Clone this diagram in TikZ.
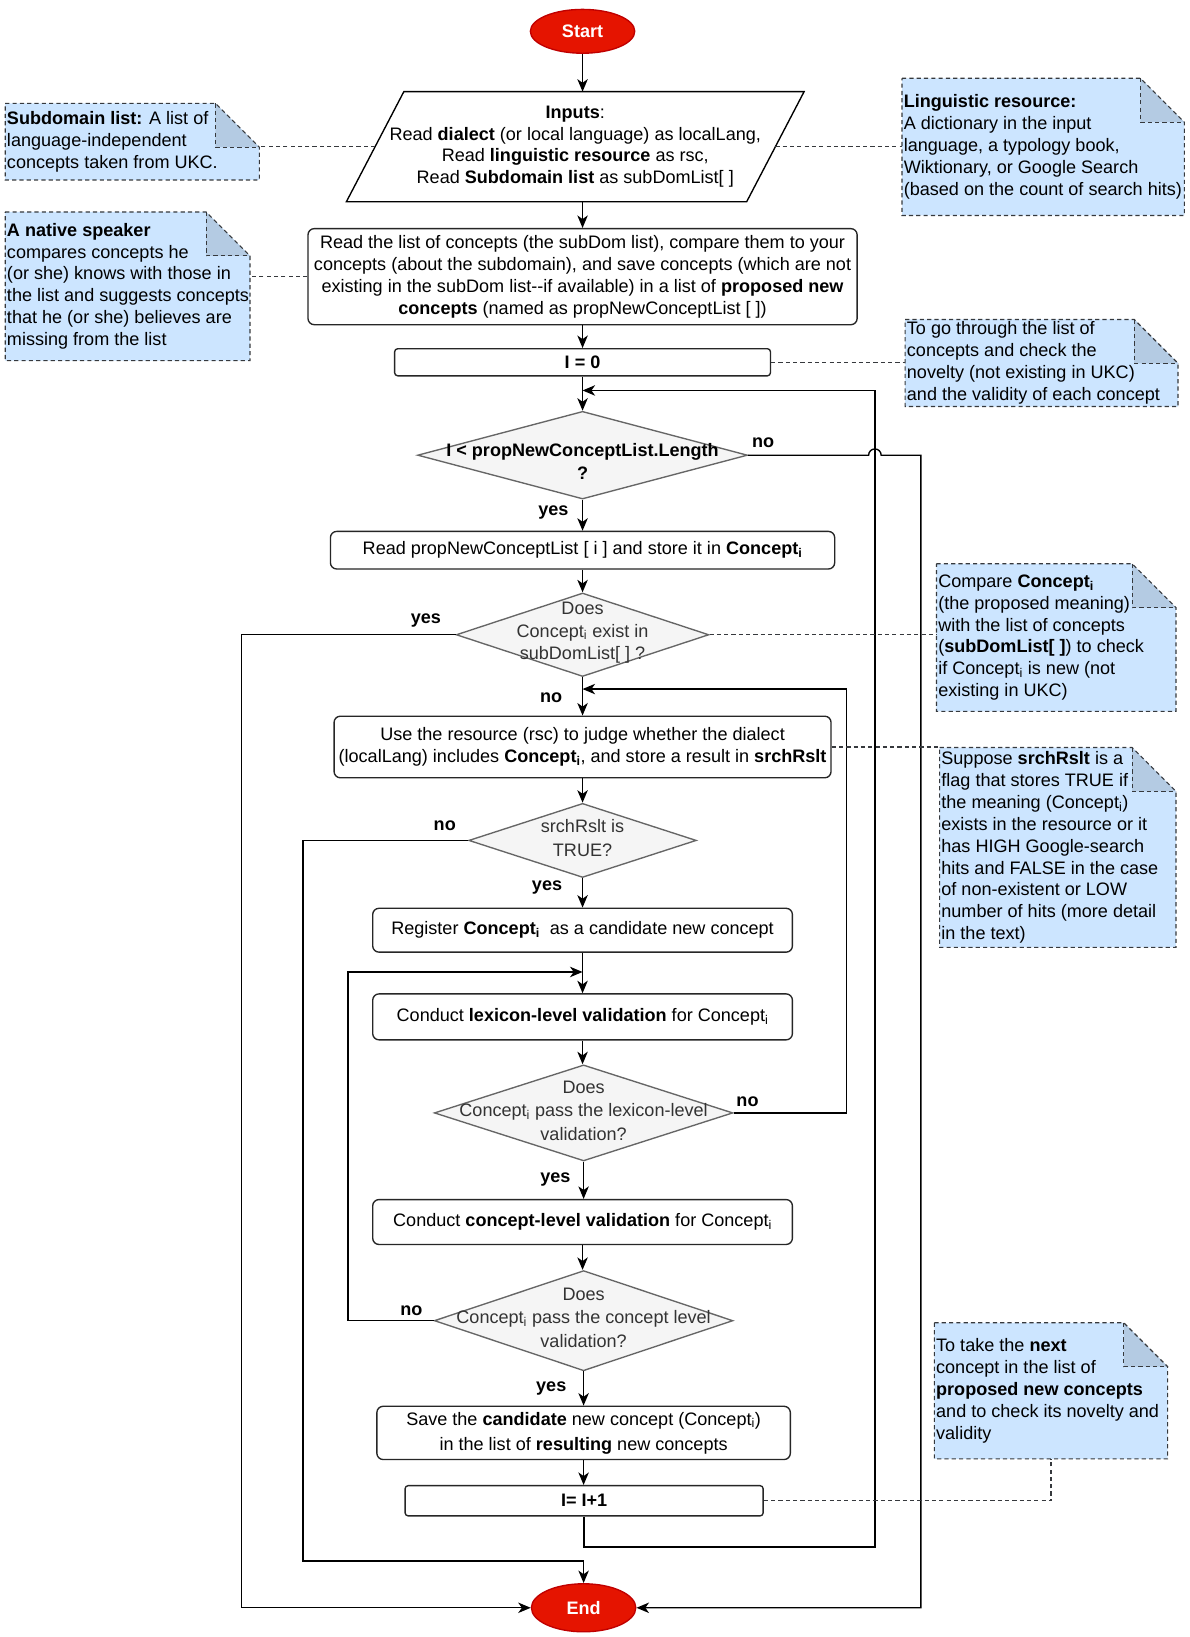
\documentclass[tikz,border=0pt]{standalone}
\usepackage{fontspec}
\setmainfont{Liberation Sans}
\usetikzlibrary{shapes.geometric,arrows.meta,calc}
\pgfdeclarelayer{bg}
\pgfdeclarelayer{paper}
\pgfsetlayers{paper,bg,main}
\definecolor{termred}{HTML}{E51400}
\definecolor{termline}{HTML}{C00000}
\definecolor{notefill}{HTML}{CCE5FF}
\definecolor{foldfill}{HTML}{B4CBE3}
\definecolor{noteline}{HTML}{36393D}
\definecolor{diafill}{HTML}{F5F5F5}
\definecolor{dialine}{HTML}{666666}
\newcommand\foldnote[1]{%
 \begin{pgfonlayer}{bg}
 \fill[notefill] (#1.north west) -- ([xshift=-42pt]#1.north east) -- ([yshift=-42pt]#1.north east) -- (#1.south east) -- (#1.south west) -- cycle;
 \fill[foldfill] ([xshift=-42pt]#1.north east) -- ([yshift=-42pt]#1.north east) -- ([xshift=-42pt,yshift=-42pt]#1.north east) -- cycle;
 \end{pgfonlayer}
 \draw[notedraw] (#1.north west) -- ([xshift=-42pt]#1.north east) -- ([yshift=-42pt]#1.north east) -- (#1.south east) -- (#1.south west) -- cycle;
 \draw[notedraw] ([xshift=-42pt]#1.north east) -- ([xshift=-42pt,yshift=-42pt]#1.north east) -- ([yshift=-42pt]#1.north east);
}
\begin{document}
\begin{tikzpicture}[x=1pt,y=-1pt,
  every node/.style={font=\fontsize{17.3}{21}\selectfont, inner sep=0pt},
  arr/.style={draw=black, line width=1.3pt, -{Stealth[length=12pt,width=10pt,inset=3.5pt]}},
  ln/.style={draw=black, line width=1.3pt},
  dashc/.style={draw=noteline, line width=1.1pt, dash pattern=on 4pt off 3pt},
  notedraw/.style={draw=noteline, line width=1.1pt, dash pattern=on 4pt off 3pt},
  proc/.style={draw=black!85, line width=1.3pt, rounded corners=6pt, fill=white, align=center},
  dia/.style={diamond, draw=dialine, line width=1.3pt, fill=diafill, inner sep=0pt},
  diat/.style={align=center, text=black!80},
  term/.style={ellipse, draw=termline, line width=1.3pt, fill=termred, text=white, font=\fontsize{17.3}{21}\selectfont\bfseries},
  lab/.style={font=\fontsize{17.3}{21}\selectfont\bfseries},
  notebox/.style={draw=none, anchor=north west, inner sep=0pt},
  notetext/.style={align=left, anchor=west, inner xsep=1.5pt}
]
\begin{pgfonlayer}{paper}
\fill[white] (0,0) rectangle (1139,1568);
\end{pgfonlayer}
\path[use as bounding box] (0,0) rectangle (1139,1568);

% terminals
\node[term, minimum width=100, minimum height=42] (start) at (558,30) {Start};
\node[term, minimum width=100, minimum height=46] (endn) at (559,1540) {End};

% inputs parallelogram
\node[minimum width=383, minimum height=105, align=center] (inp) at (551,140.5)
 {\textbf{Inputs}:\\ Read \textbf{dialect} (or local language) as localLang,\\ Read \textbf{linguistic resource} as rsc,\\ Read \textbf{Subdomain list} as subDomList[ ]};
\begin{pgfonlayer}{bg}
\draw[line width=1.3pt, fill=white] ([xshift=27.5pt]inp.north west) -- ([xshift=27.5pt]inp.north east) -- ([xshift=-27.5pt]inp.south east) -- ([xshift=-27.5pt]inp.south west) -- cycle;
\end{pgfonlayer}

% process boxes
\node[proc, minimum width=526, minimum height=92] (rl) at (558,265)
 {Read the list of concepts (the subDom list), compare them to your\\ concepts (about the subdomain), and save concepts (which are not\\ existing in the subDom list-{}-if available) in a list of \textbf{proposed new}\\ \textbf{concepts} (named as propNewConceptList [ ])};
\node[proc, rounded corners=3pt, minimum width=360, minimum height=26] (i0) at (558,347) {\textbf{I = 0}};
\node[dia, minimum width=316, minimum height=84] (d1) at (558,436) {};
\node[diat, text=black, font=\fontsize{17.3}{22}\selectfont\bfseries] (d1t) at (558,442) {I < propNewConceptList.Length\\ ?};
\node[proc, minimum width=483, minimum height=36] (rp) at (558,527)
 {Read propNewConceptList [ i ] and store it in \textbf{Concept\textsubscript{i}}};
\node[dia, minimum width=242, minimum height=80] (d2) at (558,608) {};
\node[diat, font=\fontsize{17.3}{22}\selectfont] (d2t) at (558,606) {Does\\ Concept\textsubscript{i} exist in\\ subDomList[ ] ?};
\node[proc, minimum width=476, minimum height=59] (ur) at (558,715.5)
 {Use the resource (rsc) to judge whether the dialect\\ (localLang) includes \textbf{Concept\textsubscript{i}}, and store a result in \textbf{srchRslt}};
\node[dia, minimum width=218, minimum height=71] (d3) at (558,805) {};
\node[diat, font=\fontsize{17.3}{23}\selectfont] (d3t) at (558,803) {srchRslt is\\ TRUE?};
\node[proc, minimum width=402, minimum height=42] (reg) at (558,891)
 {Register \textbf{Concept\textsubscript{i}}\ \ as a candidate new concept};
\node[proc, minimum width=402, minimum height=44] (lex) at (558,974)
 {Conduct \textbf{lexicon-level validation} for Concept\textsubscript{i}};
\node[dia, minimum width=286, minimum height=92] (d4) at (559,1066) {};
\node[diat, font=\fontsize{17.3}{22.5}\selectfont] (d4t) at (559,1064) {Does\\ Concept\textsubscript{i} pass the lexicon-level\\ validation?};
\node[proc, minimum width=402, minimum height=43] (con) at (558,1170.5)
 {Conduct \textbf{concept-level validation} for Concept\textsubscript{i}};
\node[dia, minimum width=286, minimum height=96] (d5) at (559,1265) {};
\node[diat, font=\fontsize{17.3}{22.5}\selectfont] (d5t) at (559,1262) {Does\\ Concept\textsubscript{i} pass the concept level\\ validation?};
\node[proc, minimum width=396, minimum height=51] (save) at (559,1372.5)
 {Save the \textbf{candidate} new concept (Concept\textsubscript{i})\\[3pt] in the list of \textbf{resulting} new concepts};
\node[proc, rounded corners=3pt, minimum width=343, minimum height=29] (inc) at (559.5,1437.5) {\textbf{I= I+1}};

% notes
\node[notebox, minimum width=243, minimum height=73] (nsub) at (5,99) {};
\node[notetext] (nsubt) at (nsub.west) {\textbf{Subdomain list:} A list of\\ language-independent\\ concepts taken from UKC.};
\foldnote{nsub}
\node[notebox, minimum width=270, minimum height=131] (nling) at (864,75) {};
\node[notetext] (nlingt) at (nling.west) {\textbf{Linguistic resource:}\\ A dictionary in the input\\ language, a typology book,\\ Wiktionary, or Google Search\\ (based on the count of search hits)};
\foldnote{nling}
\node[notebox, minimum width=234, minimum height=142] (nnat) at (5,203) {};
\node[notetext] (nnatt) at (nnat.west) {\textbf{A native speaker}\\ compares concepts he\\ (or she) knows with those in\\ the list and suggests concepts\\ that he (or she) believes are\\ missing from the list};
\foldnote{nnat}
\node[notebox, minimum width=261, minimum height=83] (ngo) at (867,306) {};
\node[notetext] (ngot) at (ngo.west) {To go through the list of\\ concepts and check the\\ novelty (not existing in UKC)\\ and the validity of each concept};
\foldnote{ngo}
\node[notebox, minimum width=229, minimum height=141] (ncmp) at (897,540) {};
\node[notetext] (ncmpt) at (ncmp.west) {Compare \textbf{Concept\textsubscript{i}}\\ (the proposed meaning)\\ with the list of concepts\\ (\textbf{subDomList[ ]}) to check\\ if Concept\textsubscript{i} is new (not\\ existing in UKC)};
\foldnote{ncmp}
\node[notebox, minimum width=226, minimum height=191] (nsup) at (900,716) {};
\node[notetext] (nsupt) at (nsup.west) {Suppose \textbf{srchRslt} is a\\ flag that stores TRUE if\\ the meaning (Concept\textsubscript{i})\\ exists in the resource or it\\ has HIGH Google-search\\ hits and FALSE in the case\\ of non-existent or LOW\\ number of hits (more detail\\ in the text)};
\foldnote{nsup}
\node[notebox, minimum width=223, minimum height=130] (nnext) at (895,1267) {};
\node[notetext] (nnextt) at (nnext.west) {To take the \textbf{next}\\ concept in the list of\\ \textbf{proposed new concepts}\\ and to check its novelty and\\ validity};
\foldnote{nnext}

% coordinates for loop entries
\coordinate (loopin) at (558,374);
\coordinate (lexin) at (558,660);
\coordinate (conin) at (558,931);

% main connectors
\draw[arr] (start.south) -- (start.south |- inp.north);
\draw[arr] (rl.north |- inp.south) -- (rl.north);
\draw[arr] (rl.south) -- (i0.north);
\draw[arr] (i0.south) -- (d1.north);
\draw[arr] (d1.south) -- (rp.north);
\draw[arr] (rp.south) -- (d2.north);
\draw[arr] (d2.south) -- (ur.north);
\draw[arr] (ur.south) -- (d3.north);
\draw[arr] (d3.south) -- (reg.north);
\draw[arr] (reg.south) -- (reg.south |- lex.north);
\draw[arr] (lex.south) -- (lex.south |- d4.north);
\draw[arr] (d4.south) -- (d4.south |- con.north);
\draw[arr] (con.south) -- (con.south |- d5.north);
\draw[arr] (d5.south) -- (d5.south |- save.north);
\draw[arr] (save.south) -- (save.south |- inc.north);

% loops and branches
\draw[arr] (inc.south) -- ++(0,29) -| ($(loopin)+(280,0)$) -- (loopin);
\draw[arr] (d1.east) -- (832,436) arc[start angle=180, end angle=360, radius=6] -- (882,436) |- (endn.east);
\draw[arr] (d2.west) -- ++(-205,0) |- (endn.west);
\draw[arr] (d3.west) -- ++(-158,0) |- ($(endn.north)+(0,-21)$) -- (endn.north);
\draw[arr] (d4.east) -- ++(108,0) |- (lexin);
\draw[arr] (d5.west) -- ++(-82,0) |- (conin);

% dashed note connectors
\draw[dashc] (inp.west) -- (inp.west -| nsub.east);
\draw[dashc] (inp.east) -- (inp.east -| nling.west);
\draw[dashc] (rl.west) -- (rl.west -| nnat.east);
\draw[dashc] (i0.east) -- (i0.east -| ngo.west);
\draw[dashc] (d2.east) -- (d2.east -| ncmp.west);
\draw[dashc] (ur.east) -- (ur.east -| nsup.west);
\draw[dashc] (inc.east) -| (nnext.south);

% branch labels
\node[lab] (l1) at (731,424) {no};
\node[lab] (l2) at (530,491) {yes};
\node[lab] (l3) at (408,594) {yes};
\node[lab] (l4) at (528,668) {no};
\node[lab] (l5) at (426,791) {no};
\node[lab] (l6) at (524,850) {yes};
\node[lab] (l7) at (716,1055) {no};
\node[lab] (l8) at (532,1130) {yes};
\node[lab] (l9) at (394,1255) {no};
\node[lab] (l10) at (528,1330) {yes};
\end{tikzpicture}
\end{document}
